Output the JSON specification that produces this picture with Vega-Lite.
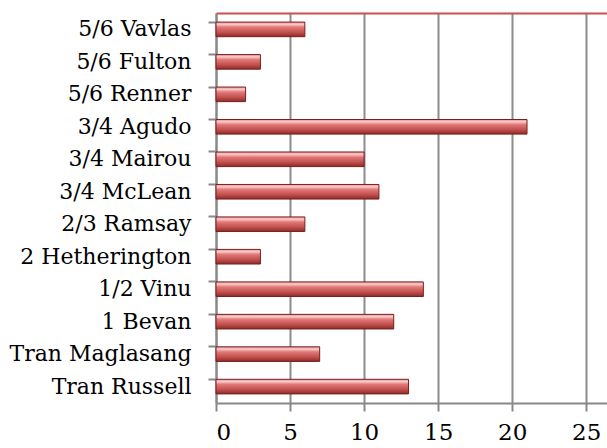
{
  "$schema": "https://vega.github.io/schema/vega-lite/v6.json",
  "width": 391,
  "height": 390,
  "autosize": {"type": "none"},
  "padding": {"left": 216, "top": 13, "right": 0, "bottom": 45},
  "background": "white",
  "config": {"view": {"stroke": null}},
  "resolve": {"axis": {"x": "independent"}},
  "data": {"values": [
    {"name": "5/6 Vavlas", "value": 6},
    {"name": "5/6 Fulton", "value": 3},
    {"name": "5/6 Renner", "value": 2},
    {"name": "3/4 Agudo", "value": 21},
    {"name": "3/4 Mairou", "value": 10},
    {"name": "3/4 McLean", "value": 11},
    {"name": "2/3 Ramsay", "value": 6},
    {"name": "2 Hetherington", "value": 3},
    {"name": "1/2 Vinu", "value": 14},
    {"name": "1 Bevan", "value": 12},
    {"name": "Tran Maglasang", "value": 7},
    {"name": "Tran Russell", "value": 13}
  ]},
  "layer": [
    {
      "mark": {
        "type": "bar",
        "stroke": "#7a1f1d",
        "strokeWidth": 1,
        "fill": {
          "gradient": "linear", "x1": 0, "y1": 0, "x2": 0, "y2": 1,
          "stops": [
            {"offset": 0, "color": "#e88f8e"},
            {"offset": 0.15, "color": "#f8cccc"},
            {"offset": 0.35, "color": "#e27877"},
            {"offset": 0.7, "color": "#c0504d"},
            {"offset": 1, "color": "#8c2b29"}
          ]
        }
      },
      "encoding": {
        "y": {
          "field": "name", "type": "nominal", "sort": null,
          "scale": {"paddingInner": 0.55, "paddingOuter": 0.28},
          "axis": {
            "title": null,
            "bandPosition": 0,
            "labelFont": "DejaVu Serif",
            "labelFontSize": 22,
            "labelLimit": 300,
            "labelColor": "#000",
            "labelPadding": 17,
            "tickColor": "#888",
            "tickSize": 8,
            "tickWidth": 2,
            "domainColor": "#888",
            "domainWidth": 2,
            "grid": false
          }
        },
        "x": {
          "field": "value", "type": "quantitative",
          "scale": {"domain": [0, 26.4], "nice": false},
          "axis": {
            "orient": "bottom",
            "title": null,
            "values": [0, 5, 10, 15, 20, 25],
            "labelFont": "DejaVu Serif",
            "labelFontSize": 23,
            "labelColor": "#000",
            "labelPadding": 10,
            "tickColor": "#888",
            "tickSize": 8,
            "tickWidth": 2,
            "domainColor": "#888",
            "domainWidth": 2,
            "grid": true,
            "gridColor": "#8c8c8c",
            "gridWidth": 2
          }
        }
      }
    },
    {
      "mark": {"type": "bar", "opacity": 0},
      "encoding": {
        "y": {"field": "name", "type": "nominal", "sort": null},
        "x": {
          "field": "value", "type": "quantitative",
          "axis": {"orient": "top", "title": null, "labels": false, "ticks": false, "grid": false, "domainColor": "#c9504d", "domainWidth": 2}
        }
      }
    }
  ]
}
